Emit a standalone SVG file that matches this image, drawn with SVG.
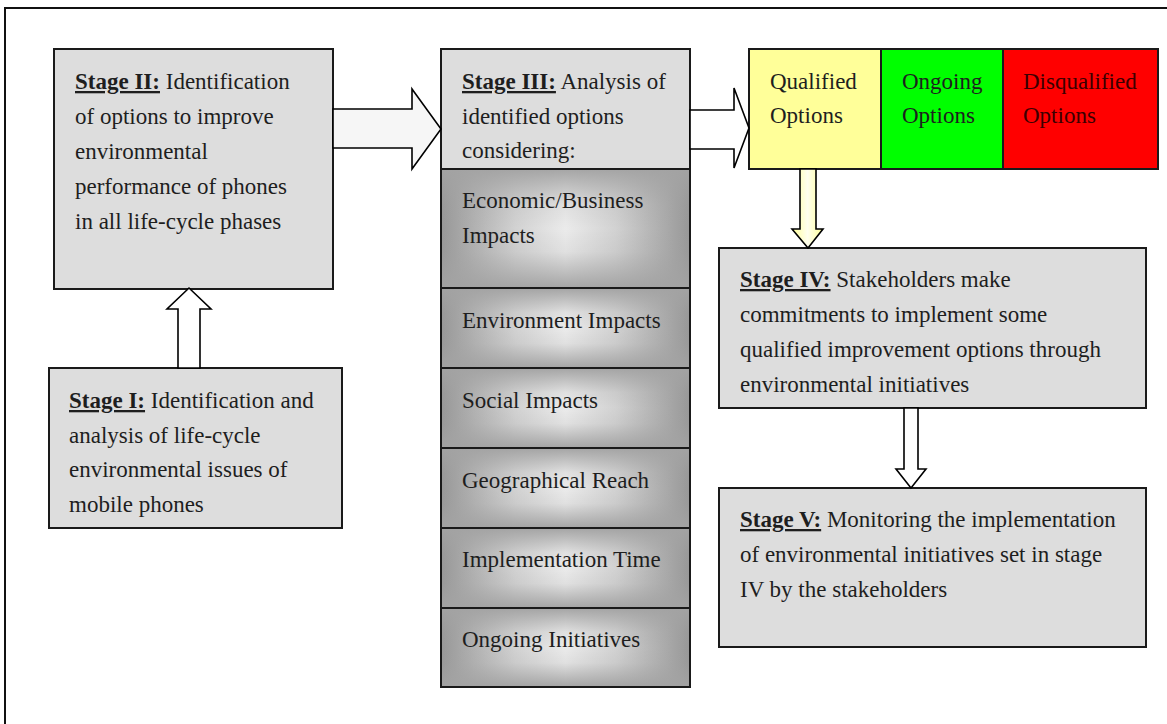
<svg xmlns="http://www.w3.org/2000/svg" width="1167" height="724" viewBox="0 0 1167 724">
<style>
  .box { fill: #dddddd; stroke: #1a1a1a; stroke-width: 2; }
  .sub { stroke: #1a1a1a; stroke-width: 2; }
  .t { font-family: "Liberation Serif", "Times New Roman", serif; font-size: 23px; fill: #1e1e1e; }
  .lbl { font-weight: bold; text-decoration: underline; }
  .arrow { stroke: #000; stroke-width: 1.6; stroke-linejoin: miter; }
</style>
<defs>
  <linearGradient id="gH" x1="0" y1="0" x2="1" y2="0">
    <stop offset="0" stop-color="#979797"/>
    <stop offset="0.3" stop-color="#d2d2d2"/>
    <stop offset="0.5" stop-color="#ebebeb"/>
    <stop offset="0.7" stop-color="#d2d2d2"/>
    <stop offset="1" stop-color="#979797"/>
  </linearGradient>
  <linearGradient id="gV" x1="0" y1="0" x2="0" y2="1">
    <stop offset="0" stop-color="#a3a3a3" stop-opacity="0.95"/>
    <stop offset="0.3" stop-color="#a3a3a3" stop-opacity="0.15"/>
    <stop offset="0.5" stop-color="#a3a3a3" stop-opacity="0"/>
    <stop offset="0.7" stop-color="#a3a3a3" stop-opacity="0.15"/>
    <stop offset="1" stop-color="#a3a3a3" stop-opacity="0.95"/>
  </linearGradient>
  <linearGradient id="gY" x1="0" y1="0" x2="1" y2="0">
    <stop offset="0" stop-color="#ffff99"/>
    <stop offset="0.5" stop-color="#ffffee"/>
    <stop offset="1" stop-color="#ffff99"/>
  </linearGradient>
</defs>

<rect x="0" y="0" width="1167" height="724" fill="#ffffff"/>
<rect id="frame" x="5" y="8" width="1300" height="800" fill="none" stroke="#111" stroke-width="2"/>

<g id="stage2">
  <rect class="box" x="54" y="49" width="279" height="240"/>
  <text class="t" x="75" y="89"><tspan class="lbl">Stage II:</tspan> Identification</text>
  <text class="t" x="75" y="124">of options to improve</text>
  <text class="t" x="75" y="159">environmental</text>
  <text class="t" x="75" y="194">performance of phones</text>
  <text class="t" x="75" y="229">in all life-cycle phases</text>
</g>

<g id="stage1">
  <rect class="box" x="49" y="368" width="293" height="160"/>
  <text class="t" x="69" y="408"><tspan class="lbl">Stage I:</tspan> Identification and</text>
  <text class="t" x="69" y="443">analysis of life-cycle</text>
  <text class="t" x="69" y="477">environmental issues of</text>
  <text class="t" x="69" y="512">mobile phones</text>
</g>

<g id="stage3">
  <rect class="box" x="441" y="49" width="249" height="120"/>
  <text class="t" x="462" y="89"><tspan class="lbl">Stage III:</tspan> Analysis of</text>
  <text class="t" x="462" y="124">identified options</text>
  <text class="t" x="462" y="158">considering:</text>
</g>

<g id="economic">
  <rect class="sub" x="441" y="169" width="249" height="119" fill="url(#gH)"/>
  <rect x="442" y="170" width="247" height="117" fill="url(#gV)"/>
  <rect x="441" y="169" width="249" height="119" fill="none" stroke="#1a1a1a" stroke-width="2"/>
  <text class="t" x="462" y="208">Economic/Business</text>
  <text class="t" x="462" y="243">Impacts</text>
</g>
<g id="environment">
  <rect class="sub" x="441" y="288" width="249" height="80" fill="url(#gH)"/>
  <rect x="442" y="289" width="247" height="78" fill="url(#gV)"/>
  <rect x="441" y="288" width="249" height="80" fill="none" stroke="#1a1a1a" stroke-width="2"/>
  <text class="t" x="462" y="328">Environment Impacts</text>
</g>
<g id="social">
  <rect class="sub" x="441" y="368" width="249" height="80" fill="url(#gH)"/>
  <rect x="442" y="369" width="247" height="78" fill="url(#gV)"/>
  <rect x="441" y="368" width="249" height="80" fill="none" stroke="#1a1a1a" stroke-width="2"/>
  <text class="t" x="462" y="408">Social Impacts</text>
</g>
<g id="geographical">
  <rect class="sub" x="441" y="448" width="249" height="80" fill="url(#gH)"/>
  <rect x="442" y="449" width="247" height="78" fill="url(#gV)"/>
  <rect x="441" y="448" width="249" height="80" fill="none" stroke="#1a1a1a" stroke-width="2"/>
  <text class="t" x="462" y="488">Geographical Reach</text>
</g>
<g id="implementation">
  <rect class="sub" x="441" y="528" width="249" height="80" fill="url(#gH)"/>
  <rect x="442" y="529" width="247" height="78" fill="url(#gV)"/>
  <rect x="441" y="528" width="249" height="80" fill="none" stroke="#1a1a1a" stroke-width="2"/>
  <text class="t" x="462" y="567">Implementation Time</text>
</g>
<g id="ongoing-initiatives">
  <rect class="sub" x="441" y="608" width="249" height="79" fill="url(#gH)"/>
  <rect x="442" y="609" width="247" height="77" fill="url(#gV)"/>
  <rect x="441" y="608" width="249" height="79" fill="none" stroke="#1a1a1a" stroke-width="2"/>
  <text class="t" x="462" y="647">Ongoing Initiatives</text>
</g>

<g id="qualified">
  <rect x="749" y="49" width="132" height="120" fill="#ffff99" stroke="#1a1a1a" stroke-width="2"/>
  <text class="t" x="770" y="89">Qualified</text>
  <text class="t" x="770" y="123">Options</text>
</g>
<g id="ongoing">
  <rect x="881" y="49" width="122" height="120" fill="#00ff00" stroke="#1a1a1a" stroke-width="2"/>
  <text class="t" x="902" y="89">Ongoing</text>
  <text class="t" x="902" y="123">Options</text>
</g>
<g id="disqualified">
  <rect x="1003" y="49" width="155" height="120" fill="#ff0000" stroke="#1a1a1a" stroke-width="2"/>
  <text class="t" x="1023" y="89" style="fill:#3a0000">Disqualified</text>
  <text class="t" x="1023" y="123" style="fill:#3a0000">Options</text>
</g>

<g id="stage4">
  <rect class="box" x="719" y="248" width="427" height="160"/>
  <text class="t" x="740" y="287"><tspan class="lbl">Stage IV:</tspan> Stakeholders make</text>
  <text class="t" x="740" y="322">commitments to implement some</text>
  <text class="t" x="740" y="357">qualified improvement options through</text>
  <text class="t" x="740" y="392">environmental initiatives</text>
</g>

<g id="stage5">
  <rect class="box" x="719" y="488" width="427" height="159"/>
  <text class="t" x="740" y="527"><tspan class="lbl">Stage V:</tspan> Monitoring the implementation</text>
  <text class="t" x="740" y="562">of environmental initiatives set in stage</text>
  <text class="t" x="740" y="597">IV by the stakeholders</text>
</g>

<g id="connectors">
  <!-- Stage I -> Stage II (up) -->
  <polygon class="arrow" fill="#ffffff" points="178,368 178,309 167,309 189,288 211,309 200,309 200,368"/>
  <!-- Stage II -> Stage III -->
  <polygon class="arrow" fill="#f6f6f6" points="333,109 412,109 412,89 441,129 412,169 412,148 333,148"/>
  <!-- Stage III -> Options -->
  <polygon class="arrow" fill="#ffffff" points="690,110 734,110 734,88 749,128 734,168 734,149 690,149"/>
  <!-- Qualified -> Stage IV (down) -->
  <polygon class="arrow" fill="url(#gY)" points="800,169 816,169 816,229 823,229 808,248 792,229 800,229"/>
  <!-- Stage IV -> Stage V (down) -->
  <polygon class="arrow" fill="#ffffff" points="904,408 918,408 918,469 926,469 911,488 896,469 904,469"/>
</g>
</svg>
